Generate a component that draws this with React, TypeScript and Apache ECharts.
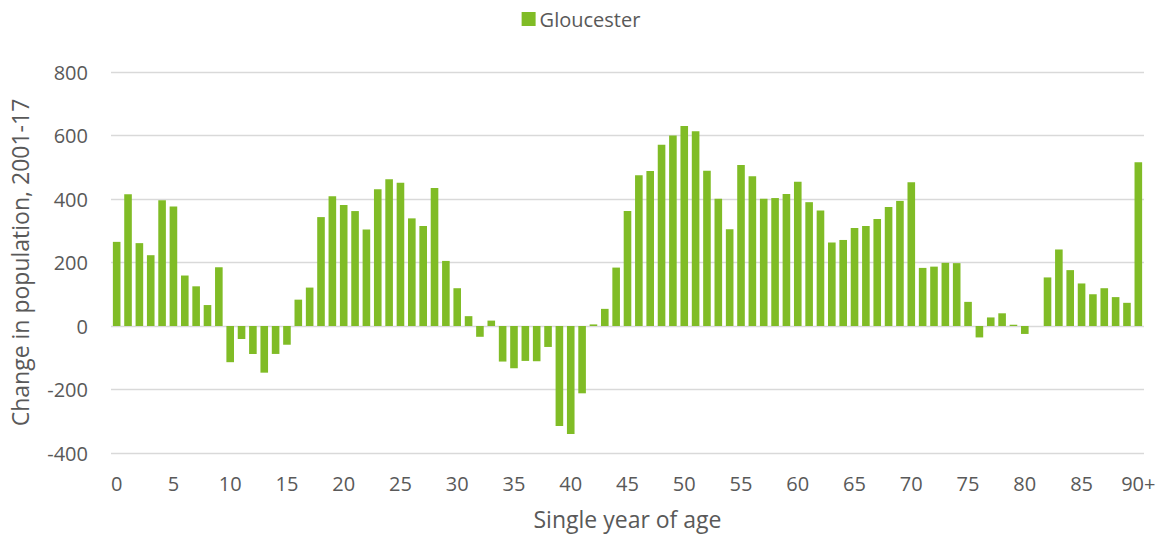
import React, { useEffect, useRef } from "react";
import * as echarts from "echarts";

const ages: string[] = [];
for (let i = 0; i < 90; i++) ages.push(String(i));
ages.push("90+");

const gloucester: number[] = [
  265, 415, 261, 223, 396, 376, 159, 125, 66, 185,
  -114, -41, -88, -147, -88, -59, 83, 121, 343, 409,
  381, 362, 304, 431, 462, 451, 339, 315, 435, 205,
  119, 31, -34, 17, -112, -133, -110, -111, -66, -315,
  -340, -212, 5, 54, 184, 362, 475, 488, 571, 600,
  630, 613, 489, 401, 305, 507, 472, 401, 403, 416,
  454, 390, 364, 263, 271, 309, 315, 337, 375, 394,
  453, 183, 187, 199, 198, 76, -36, 27, 40, 4,
  -25, 0, 153, 241, 176, 134, 100, 119, 91, 73,
  516,
];

const seriesName = "Gloucester";
const yAxisTitle = "Change in population, 2001-17";
const xAxisTitle = "Single year of age";

export default function App() {
  const ref = useRef<HTMLDivElement>(null);
  useEffect(() => {
    if (!ref.current) return;
    const chart = echarts.init(ref.current, null, { renderer: "svg" });
    const font = "'Open Sans', sans-serif";
    const grey = "#595959";
    chart.setOption({
      animation: false,
      textStyle: { fontFamily: font },
      legend: {
        left: "center",
        top: 4,
        itemWidth: 14,
        itemHeight: 14,
        itemGap: 10,
        icon: "rect",
        textStyle: { color: grey, fontSize: 20, fontFamily: font, padding: [0, 0, 0, -1] },
        data: [seriesName],
      },
      grid: { left: 111, right: 18, top: 72, bottom: 87, containLabel: false },
      xAxis: {
        type: "category",
        data: ages,
        name: xAxisTitle,
        nameLocation: "middle",
        nameGap: 54,
        nameTextStyle: { color: grey, fontSize: 23, fontFamily: font },
        axisLine: { show: false, onZero: false },
        axisTick: { show: false },
        axisLabel: { color: grey, fontSize: 20, fontFamily: font, interval: 4, margin: 20 },
      },
      yAxis: {
        type: "value",
        min: -400,
        max: 800,
        interval: 200,
        name: yAxisTitle,
        nameLocation: "middle",
        nameGap: 80,
        nameTextStyle: { color: grey, fontSize: 23, fontFamily: font },
        axisLine: { show: false },
        axisTick: { show: false },
        axisLabel: { color: grey, fontSize: 20, fontFamily: font, margin: 23 },
        splitLine: { lineStyle: { color: "#d9d9d9", width: 1.3 } },
      },
      series: [
        {
          name: seriesName,
          type: "bar",
          data: gloucester,
          barWidth: "67%",
          itemStyle: { color: "#80BC26" },
        },
      ],
    });
    return () => chart.dispose();
  }, []);
  return (
    <div
      ref={ref}
      style={{ position: "absolute", left: 0, top: 0, width: 1162, height: 540 }}
    />
  );
}
